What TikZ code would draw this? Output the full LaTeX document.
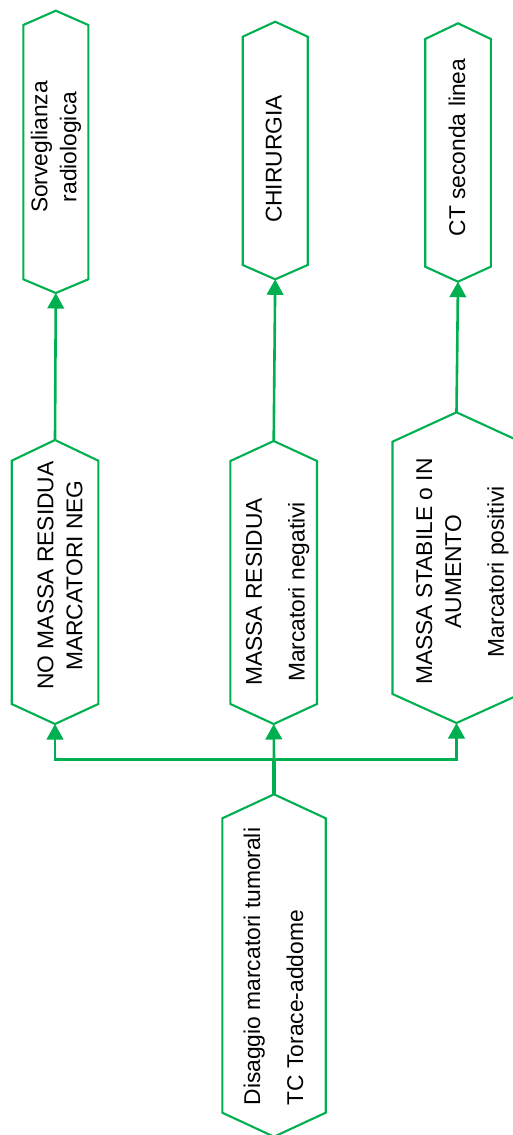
\documentclass[tikz,border=0pt]{standalone}
\usepackage{fontspec}
\setmainfont{Liberation Sans}
\usetikzlibrary{arrows.meta}
\definecolor{grn}{RGB}{0,176,80}
\tikzset{
  hexcore/.style={draw=none, inner sep=0pt, rectangle},
  hexline/.style={draw=grn, line width=2.1pt, line join=miter},
  conn/.style={draw=grn, line width=2.6pt, -{Triangle[width=16.5pt,length=15.5pt]}},
  trunk/.style={draw=grn, line width=3.4pt},
  txt/.style={rotate=90, inner sep=0pt, align=center, text=black,
              font=\fontsize{22.8}{29}\selectfont},
}
% name, cx, half width, top apex y, top shoulder y, bottom shoulder y, bottom apex y
\newcommand\hexshape[7]{%
  \node[hexcore, minimum width={2*#3pt}, minimum height={(#6-#5)*1pt}] (#1) at (#2,{(#5+#6)/2}) {};
  \coordinate (#1-t) at (#2,#4);
  \coordinate (#1-b) at (#2,#7);
  \draw[hexline] (#2-#3,#5) -- (#1-t) -- (#2+#3,#5) -- (#2+#3,#6) -- (#1-b) -- (#2-#3,#6) -- cycle;
}
\begin{document}
\begin{tikzpicture}[x=1pt,y=-1pt]
\useasboundingbox[fill=white] (0,0) rectangle (512,1135);
% top row
\hexshape{A}{55.8}{32.5}{10.7}{25}{279.3}{293}
\hexshape{B}{275.2}{32.5}{21.7}{36.7}{265}{279.3}
\hexshape{C}{458}{32.8}{23.3}{39}{266.7}{281.7}
% middle row
\hexshape{D}{55}{43.3}{440}{460.7}{704}{724}
\hexshape{E}{273.7}{43.3}{441}{461}{704}{724}
\hexshape{F}{456.5}{64}{412.3}{441.7}{694}{723}
% bottom
\hexshape{G}{274}{51.7}{794.3}{818.3}{1112.7}{1136.7}
% texts
\node[txt, anchor=north] (tA) at (30.7,147) {Sorveglianza\\radiologica};
\node[txt, anchor=north] (tB) at (265.5,159) {CHIRURGIA};
\node[txt, anchor=north] (tC) at (448.5,147.5) {CT seconda linea};
\node[txt, anchor=north] (tD) at (37.3,575.5) {NO MASSA RESIDUA\\MARCATORI NEG};
\node[txt, anchor=north] (tE) at (245.7,592) {MASSA RESIDUA\\[13.7pt]Marcatori negativi};
\node[txt, anchor=north] (tF) at (416,571.7) {MASSA STABILE o IN\\AUMENTO\\[13.7pt]Marcatori positivi};
\node[txt, anchor=north west, align=left] (tG) at (243.3,1105.5) {Disaggio marcatori tumorali\\[14pt]TC Torace-addome};
% connectors
\coordinate (J) at (274,759.3);
\draw[trunk] (G-t) -- (J);
\draw[conn] (J) -| (D-b);
\draw[conn] (J) -| (F-b);
\draw[conn] (J) -- (E-b);
\draw[conn] (D-t) -- (A-b);
\draw[conn] (E-t) -- (B-b);
\draw[conn] (F-t) -- (C-b);
\end{tikzpicture}
\end{document}
